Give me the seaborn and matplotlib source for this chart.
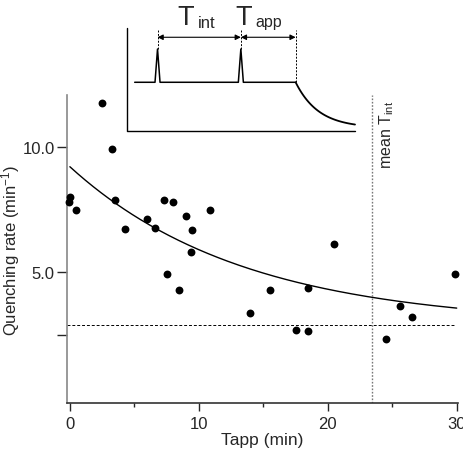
import numpy as np
import pandas as pd
import matplotlib
matplotlib.use("Agg")
import matplotlib.pyplot as plt
import seaborn as sns

# measured points: Tapp (min) vs quenching rate (1/min)
tapp = [2.5, 3.3, 0.0, -0.05, 0.5, 3.5, 4.3, 6.0, 6.6, 7.3, 8.0, 9.0, 9.5, 9.4,
        10.9, 7.5, 8.5, 14.0, 15.5, 18.5, 17.5, 18.5, 20.5, 24.5, 25.6, 26.5, 29.9]
rate = [11.75, 9.9, 7.98, 7.78, 7.47, 7.86, 6.73, 7.13, 6.75, 7.86, 7.79, 7.25, 6.67, 5.83,
        7.47, 4.92, 4.31, 3.40, 4.31, 4.38, 2.72, 2.67, 6.13, 2.35, 3.65, 3.24, 4.92]

# exponential fit: offset + amp * exp(-t / tau)
fit_offset = 2.9
fit_amp = 6.3
fit_tau = 13.5
fit_range = [0, 30]

baseline_rate = 2.9   # dashed line
mean_tint = 23.4      # dotted line

x_ticks = [0, 10, 20, 30]
x_minor = [5, 15, 25]
y_ticks = [2.5, 5.0, 10.0]
y_ticklabels = ["", "5.0", "10.0"]

# schematic inset (arbitrary units)
pulse_times = [13.5, 50.0]
stop_time = 74.0
base_start = 3.5
base_level = 0.473
pulse_peak = 0.796
pulse_halfwidth = 1.1
decay_end = 100
decay_tau = 10
decay_floor = 0.03

sns.set_style("ticks")
plt.rcParams["font.family"] = ["Liberation Sans", "DejaVu Sans"]
plt.rcParams["mathtext.fontset"] = "custom"
plt.rcParams["mathtext.rm"] = "Liberation Sans"
plt.rcParams["mathtext.it"] = "Liberation Sans:italic"

fig = plt.figure(figsize=(4.63, 4.56), dpi=100)
ax = fig.add_axes([67.3 / 463, 1 - 404.3 / 456, (458 - 67.3) / 463, (404.3 - 96) / 456])

df = pd.DataFrame({"Tapp": tapp, "rate": rate})
sns.scatterplot(data=df, x="Tapp", y="rate", ax=ax, color="black", s=32,
                edgecolor="black", linewidth=0, zorder=3, clip_on=False)

tt = np.linspace(fit_range[0], fit_range[1], 200)
fit = pd.DataFrame({"t": tt, "y": fit_offset + fit_amp * np.exp(-tt / fit_tau)})
sns.lineplot(data=fit, x="t", y="y", ax=ax, color="black", linewidth=1.0)

ax.plot([-0.2, 29.9], [baseline_rate, baseline_rate], color="black", linestyle=(0, (3, 2)),
        linewidth=0.7)
ax.plot([mean_tint, mean_tint], [-0.2, 12.05], color="#777777", linestyle=(0, (1.2, 1.2)),
        linewidth=1.0)
ax.text(mean_tint + 1.2, 10.5, "mean T$_\\mathregular{int}$", rotation=90, ha="center",
        va="center", fontsize=11.5)

ax.set_xlim(-0.2, 30.1)
ax.set_ylim(-0.2, 12.05)
ax.set_xticks(x_ticks)
ax.set_xticks(x_minor, minor=True)
ax.set_yticks(y_ticks)
ax.set_yticklabels(y_ticklabels)
ax.tick_params(axis="x", which="major", length=6, width=1, labelsize=12, pad=3)
ax.tick_params(axis="x", which="minor", length=3, width=1)
ax.tick_params(axis="y", length=7, width=1, labelsize=12, pad=2)
ax.set_xlabel("Tapp (min)", fontsize=12.5, labelpad=1)
ax.set_ylabel("Quenching rate (min$^\\mathregular{-1}$)", fontsize=12, labelpad=0.5)
sns.despine(ax=ax)
ax.spines["left"].set_color("#888888")
ax.spines["bottom"].set_color("#333333")
ax.spines["left"].set_linewidth(1.2)
ax.spines["bottom"].set_linewidth(1.2)

# inset schematic
ins = fig.add_axes([126.7 / 463, 1 - 132 / 456, (355 - 126.7) / 463, 103 / 456])
ins.set_xlim(0, 100)
ins.set_ylim(0, 1)
ins.axis("off")
ins.plot([0, 0, 100], [1, 0, 0], color="black", linewidth=1.0, clip_on=False)

xs = [base_start]
ys = [base_level]
for p in pulse_times:
    xs += [p - pulse_halfwidth, p, p + pulse_halfwidth]
    ys += [base_level, pulse_peak, base_level]
xs.append(stop_time)
ys.append(base_level)
ins.plot(xs, ys, color="black", linewidth=1.1, clip_on=False)
td = np.linspace(stop_time, decay_end, 100)
ins.plot(td, decay_floor + (base_level - decay_floor) * np.exp(-(td - stop_time) / decay_tau),
         color="black", linewidth=1.3, clip_on=False)

for xv, ylow in [(pulse_times[0], pulse_peak), (pulse_times[1], pulse_peak), (stop_time, base_level)]:
    ins.plot([xv, xv], [ylow, 0.98], color="black", linestyle=(0, (2, 1.5)), linewidth=0.7,
             clip_on=False)
for a, b in [(pulse_times[0], pulse_times[1]), (pulse_times[1], stop_time)]:
    ins.annotate("", xy=(a, 0.91), xytext=(b, 0.91),
                 arrowprops=dict(arrowstyle="<|-|>", color="black", lw=0.8,
                                 mutation_scale=8, shrinkA=0, shrinkB=0),
                 annotation_clip=False)
ins.text(22.0, 1.039, "T", fontsize=19.5, ha="left", va="baseline")
ins.text(31.0, 1.012, "int", fontsize=12, ha="left", va="baseline")
ins.text(47.4, 1.039, "T", fontsize=19.5, ha="left", va="baseline")
ins.text(56.4, 1.02, "app", fontsize=11.5, ha="left", va="baseline")

fig.savefig("out.png", dpi=100)
